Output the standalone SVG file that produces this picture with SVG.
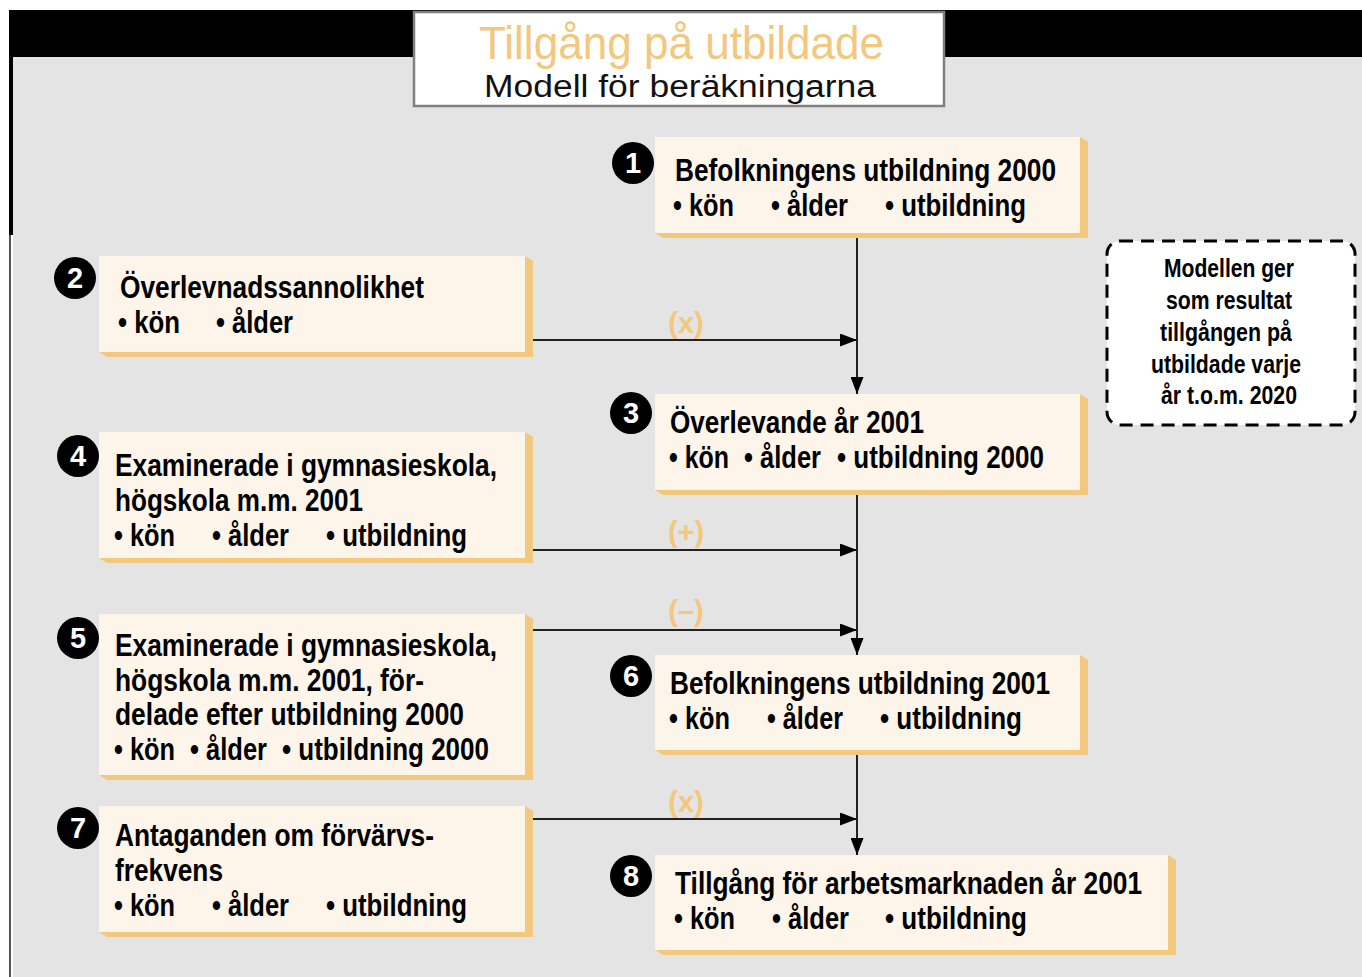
<svg xmlns="http://www.w3.org/2000/svg" width="1362" height="977" viewBox="0 0 1362 977">
<defs>
<style>
.t{font-family:"Liberation Sans",Arial,Helvetica,sans-serif;font-weight:bold;font-size:32px;fill:#000}
.n{font-family:"Liberation Sans",Arial,sans-serif;font-weight:bold;font-size:29px;fill:#fff;text-anchor:middle}
.op{font-family:"Liberation Sans",Arial,sans-serif;font-weight:bold;font-size:29px;fill:#f2c87e;text-anchor:middle}
.d{font-family:"Liberation Sans",Arial,sans-serif;font-weight:bold;font-size:25px;fill:#000;text-anchor:middle}
.box{fill:#fdf5ea}
.sh{fill:#f2c87e}
.num{fill:#000}
.ln{stroke:#222;stroke-width:2;fill:none}
</style>
<marker id="ah" viewBox="0 0 17 13" refX="17" refY="6.5" markerWidth="17" markerHeight="13" markerUnits="userSpaceOnUse" orient="auto">
<path d="M0,0 L17,6.5 L0,13 Z" fill="#000"/>
</marker>
</defs>
<rect x="0" y="0" width="1362" height="977" fill="#fff"/>
<rect x="13" y="57" width="1349" height="920" fill="#e4e4e4"/>
<rect x="9" y="10" width="1353" height="47" fill="#000"/>
<rect x="9" y="10" width="4" height="225" fill="#000"/>
<line x1="10" y1="235" x2="10" y2="977" stroke="#555" stroke-width="2"/>
<g id="title">
<rect x="414" y="12" width="530" height="94" fill="#fff" stroke="#808080" stroke-width="2.5"/>
<text x="479" y="59" font-family="Liberation Sans,Arial,sans-serif" font-size="46" fill="#f2c87e" textLength="405" lengthAdjust="spacingAndGlyphs">Tillgång på utbildade</text>
<text x="484" y="97" font-family="Liberation Sans,Arial,sans-serif" font-size="31" fill="#111" textLength="392" lengthAdjust="spacingAndGlyphs">Modell för beräkningarna</text>
</g>
<g id="connectors">
<line class="ln" x1="857" y1="236" x2="857" y2="394" marker-end="url(#ah)"/>
<line class="ln" x1="533" y1="340" x2="857" y2="340" marker-end="url(#ah)"/>
<line class="ln" x1="857" y1="493" x2="857" y2="655" marker-end="url(#ah)"/>
<line class="ln" x1="533" y1="550" x2="857" y2="550" marker-end="url(#ah)"/>
<line class="ln" x1="533" y1="630" x2="857" y2="630" marker-end="url(#ah)"/>
<line class="ln" x1="857" y1="753" x2="857" y2="855" marker-end="url(#ah)"/>
<line class="ln" x1="533" y1="819" x2="857" y2="819" marker-end="url(#ah)"/>
<text class="op" x="686" y="333">(x)</text>
<text class="op" x="686" y="542">(+)</text>
<text class="op" x="686" y="621">(–)</text>
<text class="op" x="686" y="812">(x)</text>
</g>
<g id="node1">
<polygon class="sh" points="1080,137 1088,142 1088,238 663,238 655,233"/>
<rect class="box" x="655" y="137" width="425" height="96"/>
<circle class="num" cx="633" cy="163" r="21"/>
<text class="n" x="633" y="173">1</text>
<text class="t" x="675" y="181" textLength="381" lengthAdjust="spacingAndGlyphs">Befolkningens utbildning 2000</text>
<text class="t" x="673" y="216" textLength="61" lengthAdjust="spacingAndGlyphs">• kön</text>
<text class="t" x="771" y="216" textLength="77" lengthAdjust="spacingAndGlyphs">• ålder</text>
<text class="t" x="885" y="216" textLength="141" lengthAdjust="spacingAndGlyphs">• utbildning</text>
</g>
<g id="node2">
<polygon class="sh" points="525,256 533,261 533,357 107,357 99,352"/>
<rect class="box" x="99" y="256" width="426" height="96"/>
<circle class="num" cx="75" cy="278" r="21"/>
<text class="n" x="75" y="288">2</text>
<text class="t" x="120" y="298" textLength="304" lengthAdjust="spacingAndGlyphs">Överlevnadssannolikhet</text>
<text class="t" x="118" y="333" textLength="62" lengthAdjust="spacingAndGlyphs">• kön</text>
<text class="t" x="216" y="333" textLength="77" lengthAdjust="spacingAndGlyphs">• ålder</text>
</g>
<g id="node3">
<polygon class="sh" points="1080,394 1088,399 1088,495 663,495 655,490"/>
<rect class="box" x="655" y="394" width="425" height="96"/>
<circle class="num" cx="631" cy="413" r="21"/>
<text class="n" x="631" y="423">3</text>
<text class="t" x="670" y="433" textLength="254" lengthAdjust="spacingAndGlyphs">Överlevande år 2001</text>
<text class="t" x="669" y="468" textLength="60" lengthAdjust="spacingAndGlyphs">• kön</text>
<text class="t" x="744" y="468" textLength="77" lengthAdjust="spacingAndGlyphs">• ålder</text>
<text class="t" x="837" y="468" textLength="207" lengthAdjust="spacingAndGlyphs">• utbildning 2000</text>
</g>
<g id="node4">
<polygon class="sh" points="525,432 533,437 533,563 107,563 99,558"/>
<rect class="box" x="99" y="432" width="426" height="126"/>
<circle class="num" cx="78" cy="456" r="21"/>
<text class="n" x="78" y="466">4</text>
<text class="t" x="115" y="476" textLength="382" lengthAdjust="spacingAndGlyphs">Examinerade i gymnasieskola,</text>
<text class="t" x="115" y="511" textLength="248" lengthAdjust="spacingAndGlyphs">högskola m.m. 2001</text>
<text class="t" x="114" y="546" textLength="61" lengthAdjust="spacingAndGlyphs">• kön</text>
<text class="t" x="212" y="546" textLength="77" lengthAdjust="spacingAndGlyphs">• ålder</text>
<text class="t" x="326" y="546" textLength="141" lengthAdjust="spacingAndGlyphs">• utbildning</text>
</g>
<g id="node5">
<polygon class="sh" points="525,614 533,619 533,780 107,780 99,775"/>
<rect class="box" x="99" y="614" width="426" height="161"/>
<circle class="num" cx="78" cy="638" r="21"/>
<text class="n" x="78" y="648">5</text>
<text class="t" x="115" y="656" textLength="382" lengthAdjust="spacingAndGlyphs">Examinerade i gymnasieskola,</text>
<text class="t" x="115" y="691" textLength="309" lengthAdjust="spacingAndGlyphs">högskola m.m. 2001, för-</text>
<text class="t" x="115" y="725" textLength="349" lengthAdjust="spacingAndGlyphs">delade efter utbildning 2000</text>
<text class="t" x="114" y="760" textLength="61" lengthAdjust="spacingAndGlyphs">• kön</text>
<text class="t" x="190" y="760" textLength="77" lengthAdjust="spacingAndGlyphs">• ålder</text>
<text class="t" x="282" y="760" textLength="207" lengthAdjust="spacingAndGlyphs">• utbildning 2000</text>
</g>
<g id="node6">
<polygon class="sh" points="1080,655 1088,660 1088,755 663,755 655,750"/>
<rect class="box" x="655" y="655" width="425" height="95"/>
<circle class="num" cx="631" cy="676" r="21"/>
<text class="n" x="631" y="686">6</text>
<text class="t" x="670" y="694" textLength="380" lengthAdjust="spacingAndGlyphs">Befolkningens utbildning 2001</text>
<text class="t" x="669" y="729" textLength="61" lengthAdjust="spacingAndGlyphs">• kön</text>
<text class="t" x="767" y="729" textLength="76" lengthAdjust="spacingAndGlyphs">• ålder</text>
<text class="t" x="880" y="729" textLength="142" lengthAdjust="spacingAndGlyphs">• utbildning</text>
</g>
<g id="node7">
<polygon class="sh" points="525,806 533,811 533,937 107,937 99,932"/>
<rect class="box" x="99" y="806" width="426" height="126"/>
<circle class="num" cx="78" cy="828" r="21"/>
<text class="n" x="78" y="838">7</text>
<text class="t" x="115" y="846" textLength="319" lengthAdjust="spacingAndGlyphs">Antaganden om förvärvs-</text>
<text class="t" x="115" y="881" textLength="108" lengthAdjust="spacingAndGlyphs">frekvens</text>
<text class="t" x="114" y="916" textLength="61" lengthAdjust="spacingAndGlyphs">• kön</text>
<text class="t" x="212" y="916" textLength="77" lengthAdjust="spacingAndGlyphs">• ålder</text>
<text class="t" x="326" y="916" textLength="141" lengthAdjust="spacingAndGlyphs">• utbildning</text>
</g>
<g id="node8">
<polygon class="sh" points="1168,855 1176,860 1176,955 663,955 655,950"/>
<rect class="box" x="655" y="855" width="513" height="95"/>
<circle class="num" cx="631" cy="876" r="21"/>
<text class="n" x="631" y="886">8</text>
<text class="t" x="675" y="894" textLength="467" lengthAdjust="spacingAndGlyphs">Tillgång för arbetsmarknaden år 2001</text>
<text class="t" x="674" y="929" textLength="61" lengthAdjust="spacingAndGlyphs">• kön</text>
<text class="t" x="772" y="929" textLength="77" lengthAdjust="spacingAndGlyphs">• ålder</text>
<text class="t" x="885" y="929" textLength="142" lengthAdjust="spacingAndGlyphs">• utbildning</text>
</g>
<g id="note">
<rect x="1107" y="241" width="248" height="184" rx="13" ry="13" fill="#fff" stroke="#000" stroke-width="3" stroke-dasharray="13,8"/>
<text class="d" x="1229" y="277" textLength="130" lengthAdjust="spacingAndGlyphs">Modellen ger</text>
<text class="d" x="1229" y="309" textLength="126" lengthAdjust="spacingAndGlyphs">som resultat</text>
<text class="d" x="1226" y="341" textLength="132" lengthAdjust="spacingAndGlyphs">tillgången på</text>
<text class="d" x="1226" y="373" textLength="150" lengthAdjust="spacingAndGlyphs">utbildade varje</text>
<text class="d" x="1229" y="404" textLength="136" lengthAdjust="spacingAndGlyphs">år t.o.m. 2020</text>
</g>
</svg>
